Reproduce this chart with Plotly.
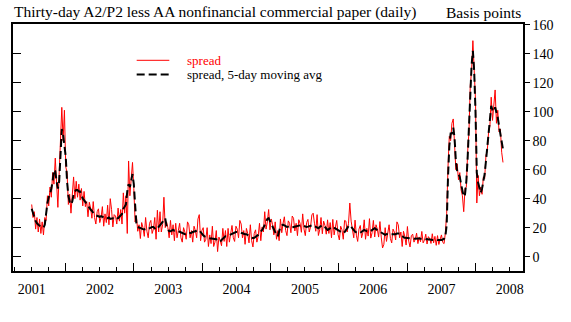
import pandas as pd
import plotly.graph_objects as go

# Weekly readings of the daily spread (basis points), starting first week of 2001
spread = [
    36, 27, 31, 19, 27, 17, 26, 16, 24, 15,
    27, 25, 42, 35, 48, 41, 58, 50, 68, 47,
    34, 58, 78, 103, 80, 101, 62, 58, 36, 43,
    30, 44, 55, 40, 52, 41, 50, 39, 47, 35,
    45, 34.5, 38, 27.5, 37.5, 33.5, 26.5, 38, 27, 22.5,
    31, 33, 23.5, 27, 34.5, 21, 29.5, 23.5, 35.5, 22,
    40, 32.5, 20.5, 29, 28, 22.5, 33.5, 24.5, 32.5, 22.5,
    44, 30, 42, 16, 66, 42, 58, 65, 47, 24,
    28, 17.5, 22, 12.5, 23.5, 20, 14, 27, 17.5, 13,
    23, 25, 16, 19, 27, 12, 32, 17, 31, 17,
    22, 41, 20, 24, 20, 13, 25, 15, 22, 11,
    23, 13, 18, 23, 13, 10, 20, 17, 12, 24,
    22, 13, 18, 10, 21, 18, 13, 26, 29, 11,
    18, 20, 10, 12, 20, 7, 15, 9, 21, 7,
    10, 18, 3.5, 13.5, 11, 7.5, 19.5, 10.5, 18, 7,
    19.5, 10, 16, 21.5, 13, 10.5, 21, 19, 13, 25,
    22.5, 13, 18, 8.5, 19.5, 16, 9.5, 22, 11, 6.7,
    16, 18.5, 10, 14, 23, 11, 20.5, 17, 31, 19,
    24, 32.5, 18.5, 26, 22, 15, 24, 12, 18, 11,
    26, 16.5, 23, 27.5, 18, 14.5, 24.7, 23, 16.5, 28,
    26.5, 17.7, 23, 14.5, 25.5, 23, 16.8, 29.5, 19, 14.5,
    23.5, 25.7, 17, 20.5, 28.8, 30, 23, 17.5, 29, 14.6,
    18.5, 27, 15.8, 24.5, 21.5, 15.5, 25.4, 16, 23.5, 13,
    25.7, 15, 20.5, 25, 15.4, 11.5, 21, 18.5, 12, 25,
    24.5, 17, 23, 37, 24.5, 20, 13, 25.2, 14.8, 10.5,
    19, 21.5, 13, 16.8, 25.4, 12, 19.5, 14.2, 26.2, 12.8,
    16.5, 25, 13.6, 22, 19, 13.5, 24.2, 13.5, 6, 8.5,
    20, 10.5, 17, 22, 12.5, 9.5, 19, 17, 11.5, 24,
    22, 13, 17, 7, 17.5, 14, 8, 20.8, 10.7, 6.7,
    14.5, 15.5, 10, 12, 16.2, 9, 13.6, 10.3, 17.4, 9.5,
    11.4, 15.5, 8.7, 13.8, 12.5, 9.1, 15.8, 9.5, 14, 7.8,
    14.5, 8.4, 12, 15, 9.8, 9, 16.5, 30, 62, 83,
    80, 92, 95, 76, 60, 64, 53, 58, 46, 42,
    31, 47, 48, 72, 86, 118, 128, 149, 122, 108,
    37, 56, 42, 48, 43, 55, 54, 70, 73, 86,
    90, 110, 94, 105, 115, 92, 101, 86, 88, 72, 65,
]

# Weekly readings of the 5-day moving average (basis points)
moving_avg = [
    33, 30, 27, 24.5, 23, 22, 21, 20.5, 20, 20,
    22, 30, 37, 41, 43, 47, 52, 60, 59, 52,
    47, 52, 72, 88, 84, 76, 69, 52, 42, 38,
    36, 38, 43, 45, 46, 46, 45, 45, 42, 40,
    39, 37.5, 36, 34.5, 33.5, 32.5, 31.5, 30, 29, 28.5,
    28, 28, 27.5, 28, 27.5, 27, 27.5, 26.5, 26.5, 27,
    26, 26.5, 26.5, 26, 27, 26.5, 26.5, 27.5, 28.5, 29.5,
    33, 34.5, 36, 45, 50, 48, 52, 57, 50, 37,
    22, 20.5, 20, 19.5, 19.5, 19, 18.8, 19, 19.5, 19,
    19.6, 20, 20.5, 20.5, 19.5, 18.5, 19.5, 20.5, 21.8, 22.5,
    24, 26, 26.5, 21, 19, 17.5, 17.5, 18, 18.5, 18,
    18.4, 18, 17.5, 17, 16.5, 16, 16, 15.5, 16, 16.5,
    16, 16, 16.5, 17, 17.2, 17.5, 18, 18, 18.4, 17,
    15.5, 14.8, 14, 13.5, 13, 13, 12.7, 12.5, 12.5, 12,
    12, 12, 11, 10.5, 10.3, 11.5, 12.5, 13.5, 14, 14,
    14.5, 15, 15, 15.5, 16, 16.5, 17, 17, 17.2, 17,
    16.5, 16, 16, 15.5, 15.5, 15, 14.5, 14, 13, 12.7,
    13, 13.5, 14, 15, 16, 17, 18.5, 20, 22, 24,
    26, 26.5, 24.5, 23, 21, 19, 17, 15, 14, 18,
    21, 21.5, 22, 21.5, 21, 20.5, 20.7, 21, 20.5, 20,
    20.5, 20.7, 21, 21.5, 21.5, 22, 21.8, 21.5, 21, 20.5,
    20.5, 20.7, 21, 21.5, 21.8, 21.8, 21, 20.5, 20, 19.6,
    20.5, 21, 21.8, 21.5, 20.5, 19.5, 18.4, 19, 19.5, 20,
    20.7, 20, 19.5, 19, 18.4, 17.5, 17, 16.5, 16, 17,
    18.5, 20, 21, 21.8, 20.5, 19, 18, 17.2, 16.8, 16.5,
    16, 16.5, 17, 17.8, 18.4, 18, 17.5, 17.2, 17.2, 17.8,
    18.5, 19, 19.6, 19, 18, 17.5, 17.2, 16.5, 16, 15.5,
    15, 15.5, 16, 16, 15.5, 15.5, 15, 15, 15.5, 16,
    16, 16, 15, 14, 13.5, 13, 13, 12.8, 12.7, 12.7,
    12.5, 12.5, 12.4, 12.5, 12.2, 12.4, 12.6, 12.3, 12.4, 12.5,
    12.4, 12, 12.2, 11.8, 12, 11.6, 11.8, 11.5, 11.5, 11.8,
    11.5, 11.4, 11.5, 11.5, 11.8, 12.4, 14, 22, 55, 76,
    85, 85, 89, 82, 66, 59, 57, 55, 50, 45,
    41.4, 43, 52, 68, 90, 112, 132, 142, 128, 100,
    58, 51, 48, 44, 47, 51, 57, 66, 76, 82,
    94, 104, 101, 100, 103, 100, 96, 90, 84, 78, 74,
]

year_labels = ["2001", "2002", "2003", "2004", "2005", "2006", "2007", "2008"]
y_ticks = [0, 20, 40, 60, 80, 100, 120, 140, 160]

spread_dates = pd.date_range("2001-01-01", periods=len(spread), freq="7D")
avg_dates = pd.date_range("2001-01-01", periods=len(moving_avg), freq="7D")

FONT = "Liberation Serif, Times New Roman, serif"
XR = ["2000-09-23", "2008-03-12"]
YR = [-9.9, 160.5]

fig = go.Figure()
fig.add_trace(go.Scatter(x=spread_dates, y=spread, mode="lines", name="spread",
                         line=dict(color="#ff0000", width=1), showlegend=False))
fig.add_trace(go.Scatter(x=avg_dates, y=moving_avg, mode="lines",
                         name="spread, 5-day moving avg",
                         line=dict(color="black", width=2, dash="8px,4px"),
                         showlegend=False))
# helper trace to activate the tick-only overlay axes
fig.add_trace(go.Scatter(x=[], y=[], xaxis="x2", yaxis="y2", showlegend=False, hoverinfo="skip"))

fig.update_layout(
    width=571, height=322,
    margin=dict(l=13, r=48, t=24, b=51),
    paper_bgcolor="white", plot_bgcolor="white",
    font=dict(family=FONT, color="black", size=14),
    xaxis=dict(type="date", range=XR, tickmode="array",
               tickvals=[f"{y}-01-01" for y in year_labels], ticktext=year_labels,
               ticks="", showline=True, mirror=True, linecolor="black", linewidth=1.5,
               showgrid=False, zeroline=False, tickfont=dict(size=14), ticklabelstandoff=4),
    xaxis2=dict(type="date", range=XR, overlaying="x", side="bottom", anchor="y2",
                tickmode="linear", tick0="2000-07-01", dtick="M12",
                ticks="inside", ticklen=8, tickwidth=1, tickcolor="black",
                showticklabels=False, showline=False, showgrid=False, zeroline=False,
                minor=dict(ticks="inside", ticklen=4, tickwidth=1, tickcolor="black",
                           tick0="2000-07-01", dtick="M3", showgrid=False)),
    yaxis=dict(range=YR, side="right", tickmode="array", tickvals=y_ticks,
               ticks="outside", ticklen=5, tickwidth=1, tickcolor="black",
               showline=True, mirror=True, linecolor="black", linewidth=1.5,
               showgrid=False, zeroline=False, tickfont=dict(size=14)),
    yaxis2=dict(range=YR, overlaying="y", side="left", anchor="x2", tickmode="array",
                tickvals=y_ticks, ticks="inside", ticklen=8, tickwidth=1, tickcolor="black",
                showticklabels=False, showline=False, showgrid=False, zeroline=False),
    showlegend=False,
)

# legend drawn as key lines + labels
fig.add_shape(type="line", xref="paper", yref="paper", x0=0.2425, x1=0.3065, y0=0.853, y1=0.853,
              line=dict(color="#ff0000", width=1))
fig.add_shape(type="line", xref="paper", yref="paper", x0=0.2425, x1=0.3065, y0=0.796, y1=0.796,
              line=dict(color="black", width=2, dash="8px,4px"))
fig.add_annotation(xref="paper", yref="paper", x=0.337, y=0.853, xanchor="left", yanchor="middle",
                   text="spread", showarrow=False, font=dict(size=13, color="#ff0000"))
fig.add_annotation(xref="paper", yref="paper", x=0.337, y=0.796, xanchor="left", yanchor="middle",
                   text="spread, 5-day moving avg", showarrow=False, font=dict(size=13, color="black"))

# header texts
fig.add_annotation(xref="paper", yref="paper", x=-0.002, y=1.0466, xanchor="left", yanchor="middle",
                   text="Thirty-day A2/P2 less AA nonfinancial commercial paper (daily)",
                   showarrow=False, font=dict(size=15.5, color="black"))
fig.add_annotation(xref="paper", yref="paper", x=1.0, y=1.0466, xanchor="right", yanchor="middle",
                   text="Basis points", showarrow=False, font=dict(size=15.5, color="black"))

fig.write_html("out.html")
